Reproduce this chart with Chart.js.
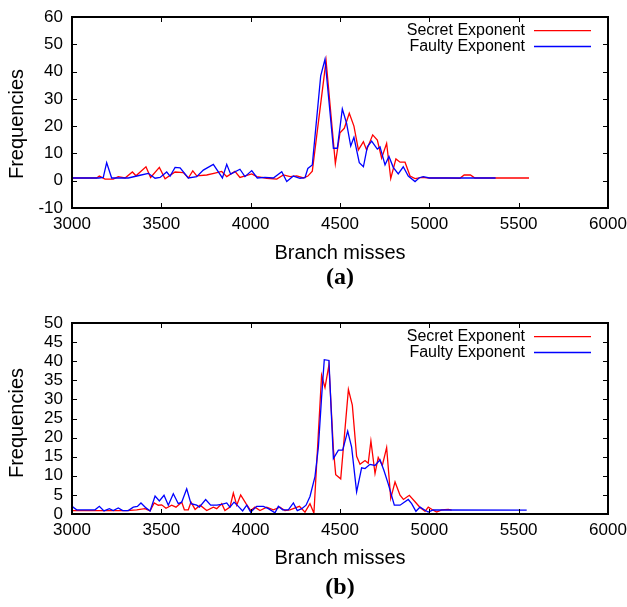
<!DOCTYPE html>
<html>
<head>
<meta charset="utf-8">
<script src="https://cdn.jsdelivr.net/npm/chart.js@4.4.1/dist/chart.umd.min.js"></script>
<style>
  html, body { margin: 0; padding: 0; background: #fff; }
  canvas { position: absolute; left: 0; }
  #chartA { top: 0; }
  #chartB { top: 300px; }
</style>
</head>
<body>
<canvas id="chartA" width="627" height="300"></canvas>
<canvas id="chartB" width="627" height="307"></canvas>
<script>
// ---- (a) branch-miss histogram ----
const aSecretX = [3000, 3138, 3153, 3185, 3231, 3259, 3297, 3338, 3358, 3414, 3440, 3489, 3521, 3577, 3623, 3651, 3676, 3698, 3754, 3800, 3838, 3866, 3912, 3940, 4006, 4034, 4090, 4146, 4183, 4221, 4258, 4295, 4320, 4345, 4422, 4474, 4500, 4524, 4552, 4578, 4603, 4631, 4649, 4683, 4709, 4733, 4761, 4784, 4813, 4836, 4864, 4892, 4920, 4960, 5000, 5100, 5171, 5195, 5230, 5255, 5558];
const aSecretY = [1, 1, 1.7, 0.6, 0.6, 1.5, 1, 3.2, 1.8, 5.1, 1.2, 4.9, 0.7, 3.2, 3, 1, 3.6, 1.8, 2.1, 2.8, 3.4, 1.5, 3.4, 1.2, 2.5, 1.5, 0.9, 0.6, 2.1, 1.5, 1.8, 1, 1.7, 3.5, 44, 6.3, 17.6, 19.2, 24.7, 20, 11.3, 14.3, 11.3, 16.8, 14.9, 8.3, 13.7, 0.8, 8, 6.8, 6.8, 1.7, 0.8, 1.2, 1, 1, 0.9, 2.1, 2.1, 1, 1];
const aFaultyX = [3000, 3150, 3175, 3194, 3222, 3315, 3381, 3427, 3465, 3493, 3530, 3549, 3577, 3605, 3651, 3698, 3735, 3791, 3842, 3866, 3888, 3940, 3968, 4006, 4037, 4080, 4127, 4174, 4202, 4239, 4276, 4304, 4320, 4345, 4392, 4416, 4463, 4485, 4513, 4537, 4560, 4578, 4608, 4631, 4653, 4677, 4709, 4724, 4752, 4774, 4798, 4826, 4854, 4882, 4920, 4944, 4966, 5000, 5100, 5200, 5371];
const aFaultyY = [1, 1, 1.2, 6.6, 1, 1, 2, 2.7, 0.9, 1.2, 3.2, 1.7, 4.9, 4.7, 1, 1.5, 3.9, 6.0, 1.0, 6.0, 2.4, 4.2, 1.5, 3.7, 1, 1.2, 1, 3.3, -0.3, 1.7, 0.9, 1.1, 4.5, 5.8, 38.4, 44.5, 11.9, 11.9, 26.3, 21, 12.7, 15.9, 6.6, 5.1, 12.4, 14.5, 11.6, 12.4, 5.8, 8.9, 4.9, 2.5, 5.1, 1.7, -0.3, 1.1, 1.5, 1, 1, 1, 1];

// ---- (b) branch-miss histogram ----
const bSecretX = [3000, 3306, 3362, 3408, 3437, 3460, 3483, 3502, 3526, 3558, 3582, 3614, 3629, 3651, 3666, 3689, 3717, 3754, 3791, 3810, 3838, 3856, 3884, 3903, 3922, 3944, 3974, 4000, 4024, 4052, 4090, 4127, 4164, 4192, 4220, 4273, 4304, 4332, 4354, 4397, 4416, 4438, 4463, 4476, 4504, 4547, 4569, 4593, 4612, 4640, 4658, 4673, 4696, 4714, 4737, 4761, 4784, 4808, 4836, 4855, 4888, 4920, 4948, 4976, 4994, 5022, 5041, 5069, 5106, 5125];
const bSecretY = [0.9, 0.9, 1.1, 1.4, 0.8, 2.9, 2.3, 2.4, 1.5, 2.3, 1.8, 3.1, 1.1, 1.1, 3.1, 1.2, 2.3, 0.9, 1.8, 1.4, 2.7, 0.9, 1.8, 5.5, 2.3, 5.0, 2.7, 0.9, 1.8, 0.9, 1.8, 1.1, 1.8, 0.9, 1.1, 2.0, 0.5, 2.7, 0.2, 36.3, 33.1, 39, 17, 10.3, 9.2, 32.6, 28.5, 15.1, 13.0, 14, 13.3, 19.1, 10.6, 14.8, 12.7, 17.4, 4.1, 8.4, 4.9, 3.8, 4.9, 3.2, 1.7, 0.7, 1.8, 1.0, 0.5, 1.1, 1.2, 1.0];
const bFaultyX = [3000, 3026, 3129, 3153, 3179, 3209, 3231, 3259, 3284, 3315, 3343, 3366, 3386, 3414, 3437, 3465, 3489, 3515, 3539, 3567, 3595, 3614, 3642, 3666, 3698, 3713, 3748, 3776, 3810, 3838, 3866, 3884, 3907, 3931, 3955, 3978, 4000, 4034, 4071, 4099, 4136, 4155, 4179, 4211, 4239, 4261, 4286, 4310, 4332, 4360, 4379, 4397, 4412, 4438, 4463, 4491, 4515, 4543, 4565, 4593, 4621, 4640, 4668, 4696, 4724, 4746, 4770, 4804, 4836, 4882, 4901, 4925, 4948, 4976, 4994, 5022, 5545];
const bFaultyY = [2.0, 1.1, 1.1, 2.0, 0.8, 1.4, 0.9, 1.6, 0.9, 0.9, 1.8, 2.0, 2.9, 1.6, 0.8, 4.7, 3.4, 4.9, 2.3, 5.3, 2.7, 3.1, 6.6, 2.7, 2.3, 1.8, 3.8, 2.3, 2.3, 2.5, 2.9, 1.8, 3.1, 2.0, 0.8, 2.3, 0.5, 2.0, 2.0, 1.4, 0.3, 2.0, 1.1, 1.1, 2.9, 0.9, 1.4, 2.3, 4.6, 9.8, 17.5, 30.6, 40.4, 40.2, 14.5, 16.7, 16.7, 21.7, 17.5, 5.8, 12.1, 11.9, 13, 12.7, 14.2, 11.4, 7.9, 2.3, 2.3, 3.8, 2.7, 0.7, 1.8, 1.0, 0.5, 1.1, 1.0];

const seriesNames = ['Secret Exponent', 'Faulty Exponent'];
const seriesColors = ['#ff0000', '#0000ff'];
const xTitle = 'Branch misses';
const yTitle = 'Frequencies';

const SANS = '"Liberation Sans", Arial, Helvetica, sans-serif';
const SERIF = '"Liberation Serif", "Times New Roman", serif';

function toPoints(xs, ys) {
  return xs.map((x, i) => ({ x: x, y: ys[i] }));
}

// gnuplot-like frame: inward ticks on all sides, border, key, captions
const framePlugin = {
  id: 'gnuplotFrame',
  afterDraw(chart, args, opts) {
    const { ctx, chartArea: a, scales } = chart;
    const tl = 5;
    ctx.save();
    ctx.strokeStyle = '#000';
    ctx.lineWidth = 1;
    ctx.beginPath();
    scales.x.ticks.forEach(t => {
      const px = Math.round(scales.x.getPixelForValue(t.value)) + 0.5;
      ctx.moveTo(px, a.bottom); ctx.lineTo(px, a.bottom - tl);
      ctx.moveTo(px, a.top); ctx.lineTo(px, a.top + tl);
    });
    scales.y.ticks.forEach(t => {
      const py = Math.round(scales.y.getPixelForValue(t.value)) + 0.5;
      ctx.moveTo(a.left, py); ctx.lineTo(a.left + tl, py);
      ctx.moveTo(a.right, py); ctx.lineTo(a.right - tl, py);
    });
    ctx.stroke();
    ctx.lineWidth = 2;
    ctx.strokeRect(a.left, a.top, a.right - a.left, a.bottom - a.top);

    // key
    ctx.font = '16px ' + SANS;
    ctx.textAlign = 'right';
    ctx.textBaseline = 'middle';
    ctx.fillStyle = '#000';
    chart.data.datasets.forEach((ds, i) => {
      const y = a.top + 13.7 + i * 15.8;
      ctx.fillText(ds.label, a.right - 83, y);
      ctx.strokeStyle = ds.borderColor;
      ctx.lineWidth = 1.3;
      ctx.beginPath();
      ctx.moveTo(a.right - 74, y);
      ctx.lineTo(a.right - 17, y);
      ctx.stroke();
    });

    // vertical axis title
    ctx.save();
    ctx.translate(17, opts.yTitleY);
    ctx.rotate(-Math.PI / 2);
    ctx.textAlign = 'center';
    ctx.font = '20px ' + SANS;
    ctx.fillText(yTitle, 0, 0);
    ctx.restore();

    // sub-figure caption
    ctx.font = 'bold 24px ' + SERIF;
    ctx.textAlign = 'center';
    ctx.textBaseline = 'middle';
    ctx.fillText(opts.caption, (a.left + a.right) / 2, opts.captionY);
    ctx.restore();
  }
};

function buildChart(canvasId, secretX, secretY, faultyX, faultyY, yMin, yMax, yStep, plotTop, xAxisHeight, xTitlePad, caption, captionY, yTitleY) {
  return new Chart(document.getElementById(canvasId), {
    type: 'line',
    data: {
      datasets: [
        { label: seriesNames[0], data: toPoints(secretX, secretY), borderColor: seriesColors[0], order: 1 },
        { label: seriesNames[1], data: toPoints(faultyX, faultyY), borderColor: seriesColors[1], order: 0 }
      ]
    },
    options: {
      responsive: false,
      animation: false,
      devicePixelRatio: 1,
      layout: { padding: { left: 0, right: 19, top: plotTop, bottom: 0 } },
      elements: {
        line: { borderWidth: 1.3, tension: 0, fill: false },
        point: { radius: 0, hoverRadius: 0 }
      },
      plugins: {
        legend: { display: false },
        tooltip: { enabled: false },
        gnuplotFrame: { caption: caption, captionY: captionY, yTitleY: yTitleY }
      },
      scales: {
        x: {
          type: 'linear',
          min: 3000,
          max: 6000,
          grid: { display: false, drawTicks: false },
          border: { display: false },
          ticks: {
            stepSize: 500,
            padding: 6,
            maxRotation: 0,
            autoSkip: false,
            color: '#000',
            font: { family: SANS, size: 17 },
            callback: v => String(v)
          },
          title: {
            display: true,
            text: xTitle,
            color: '#000',
            font: { family: SANS, size: 20 },
            padding: { top: 0, bottom: xTitlePad }
          },
          afterFit: s => { s.height = xAxisHeight; s.paddingLeft = 0; s.paddingRight = 0; }
        },
        y: {
          min: yMin,
          max: yMax,
          grid: { display: false, drawTicks: false },
          border: { display: false },
          ticks: {
            stepSize: yStep,
            padding: 9,
            autoSkip: false,
            color: '#000',
            font: { family: SANS, size: 17, lineHeight: 1 },
            callback: v => String(v)
          },
          afterFit: s => { s.width = 72; s.paddingTop = 0; s.paddingBottom = 0; }
        }
      }
    },
    plugins: [framePlugin]
  });
}

buildChart('chartA', aSecretX, aSecretY, aFaultyX, aFaultyY, -10, 60, 10, 17, 92, 35, '(a)', 278, 124);
buildChart('chartB', bSecretX, bSecretY, bFaultyX, bFaultyY, 0, 50, 5, 23, 93, 37, '(b)', 288, 123);
</script>
</body>
</html>
